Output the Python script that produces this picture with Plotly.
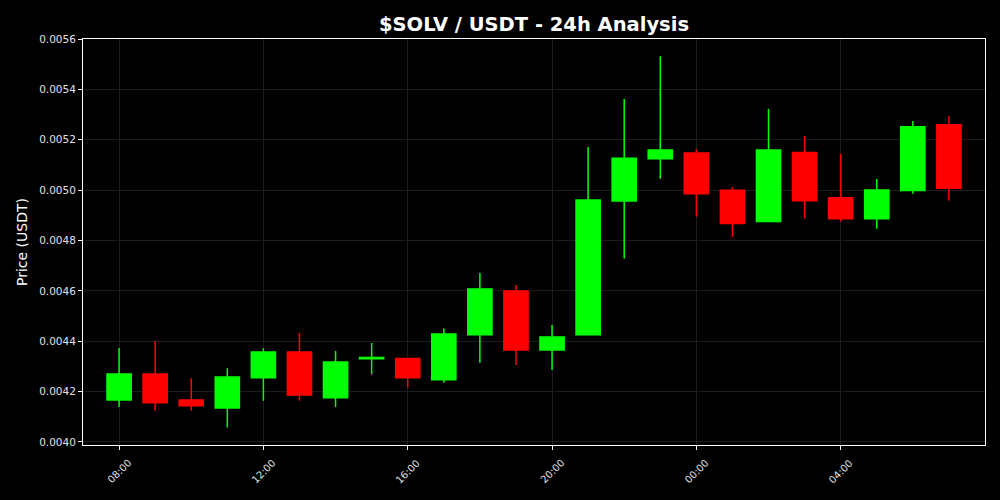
import plotly.graph_objects as go
import pandas as pd

times = pd.date_range("2024-01-01 08:00", periods=24, freq="h")
opens = [0.004167, 0.004270, 0.004167, 0.004135, 0.004255, 0.004357, 0.004176, 0.004330,
         0.004331, 0.004247, 0.004426, 0.004599, 0.004365, 0.004426, 0.004957, 0.005125,
         0.005147, 0.004999, 0.004875, 0.005149, 0.004970, 0.004886, 0.004998, 0.005260]
highs = [0.004373, 0.004400, 0.004253, 0.004293, 0.004372, 0.004433, 0.004361, 0.004393,
         0.004333, 0.004451, 0.004671, 0.004623, 0.004464, 0.005171, 0.005362, 0.005532,
         0.005163, 0.005012, 0.005322, 0.005215, 0.005143, 0.005044, 0.005274, 0.005294]
lows = [0.004139, 0.004124, 0.004124, 0.004057, 0.004164, 0.004164, 0.004139, 0.004269,
        0.004216, 0.004235, 0.004315, 0.004306, 0.004286, 0.004426, 0.004728, 0.005045,
        0.004894, 0.004815, 0.004875, 0.004886, 0.004875, 0.004847, 0.004986, 0.004958]
closes = [0.004270, 0.004156, 0.004144, 0.004258, 0.004357, 0.004187, 0.004318, 0.004335,
          0.004255, 0.004429, 0.004607, 0.004365, 0.004417, 0.004961, 0.005127, 0.005159,
          0.004986, 0.004867, 0.005159, 0.004958, 0.004886, 0.005000, 0.005252, 0.005007]

tick_vals = pd.date_range("2024-01-01 08:00", periods=6, freq="4h")
tick_text = [t.strftime("%H:%M") for t in tick_vals]

fig = go.Figure(go.Candlestick(
    x=times, open=opens, high=highs, low=lows, close=closes,
    increasing=dict(line=dict(color="#00ff00", width=1.5), fillcolor="#00ff00"),
    decreasing=dict(line=dict(color="#ff0000", width=1.5), fillcolor="#ff0000"),
    whiskerwidth=0,
    showlegend=False,
))

font = "DejaVu Sans, Arial, sans-serif"
fig.update_layout(
    width=1000, height=500,
    paper_bgcolor="black", plot_bgcolor="black",
    margin=dict(l=83, r=15, t=39, b=55),
    boxgap=0.33, boxgroupgap=0,
    title=dict(text="<b>$SOLV / USDT - 24h Analysis</b>", x=0.534, xanchor="center",
               y=0.952, yanchor="middle", font=dict(family=font, size=19.5, color="white")),
    font=dict(family=font, color="white"),
)
# rotated tick labels centred under each tick (matplotlib style)
for tv, tt in zip(tick_vals, tick_text):
    fig.add_annotation(x=tv, y=-0.0645, xref="x", yref="paper", text=tt, showarrow=False,
                       textangle=-45, xanchor="center", yanchor="middle",
                       font=dict(family=font, size=10, color="#e0e0e0"))
fig.update_xaxes(
    type="date", rangeslider_visible=False,
    range=[pd.Timestamp("2024-01-01 07:00"), pd.Timestamp("2024-01-02 08:00")],
    tickvals=tick_vals, showticklabels=False,
    ticks="outside", ticklen=4, tickcolor="white",
    showline=True, linecolor="white", linewidth=1, mirror=True,
    showgrid=True, gridcolor="#1c1c1c", gridwidth=1,
    zeroline=False,
)
fig.update_yaxes(
    range=[0.003988, 0.0056], dtick=0.0002, tick0=0.004, tickformat=".4f",
    tickfont=dict(size=10.5, color="#e0e0e0"),
    ticks="outside", ticklen=4, tickcolor="white",
    showline=True, linecolor="white", linewidth=1, mirror=True,
    showgrid=True, gridcolor="#1c1c1c", gridwidth=1,
    zeroline=False,
    title=dict(text="Price (USDT)", font=dict(size=14, color="white"), standoff=8),
)

fig.write_html("out.html", config={"displayModeBar": False},
               post_script="document.body.style.margin='0';document.body.style.background='black';")
